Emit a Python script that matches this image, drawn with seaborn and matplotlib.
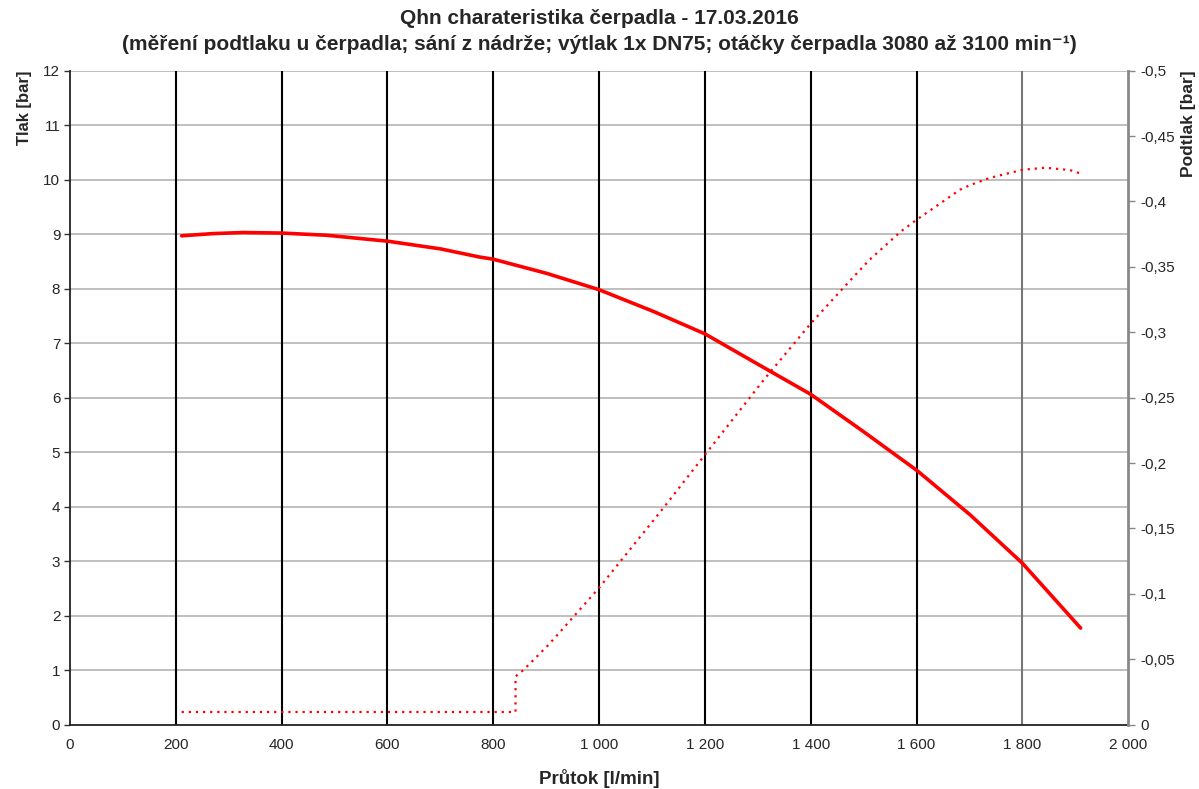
import matplotlib
matplotlib.use("Agg")
import matplotlib.pyplot as plt
import matplotlib.ticker as mticker
import seaborn as sns
import pandas as pd

# -----------------------------
# Data
# -----------------------------
# pressure curve (Tlak, left axis)
tlak_flow = [211, 270, 327, 400, 485, 601, 700, 774, 800, 901, 1000, 1103, 1200, 1297,
             1400, 1499, 1601, 1701, 1800, 1910]
tlak_bar = [8.97, 9.01, 9.03, 9.02, 8.98, 8.87, 8.73, 8.58, 8.54, 8.28, 7.98, 7.58, 7.17,
            6.63, 6.06, 5.38, 4.66, 3.85, 2.96, 1.77]

# suction curve (Podtlak, right axis, negative values)
podtlak_flow = [211, 842, 842, 857, 901, 916, 1000, 1121, 1200, 1310, 1327, 1400, 1464,
                1510, 1570, 1600, 1682, 1701, 1738, 1800, 1843, 1890, 1914]
podtlak_bar = [-0.0096, -0.0096, -0.0367, -0.0417, -0.0596, -0.0662, -0.1046, -0.1654,
               -0.2063, -0.263, -0.2713, -0.3067, -0.335, -0.355, -0.377, -0.386, -0.409,
               -0.4125, -0.418, -0.4242, -0.4258, -0.424, -0.4208]

x_ticks = [0, 200, 400, 600, 800, 1000, 1200, 1400, 1600, 1800, 2000]
left_ticks = list(range(0, 13))
right_ticks = [0, -0.05, -0.1, -0.15, -0.2, -0.25, -0.3, -0.35, -0.4, -0.45, -0.5]

title_line1 = "Qhn charateristika čerpadla - 17.03.2016"
title_line2 = ("(měření podtlaku u čerpadla; sání z nádrže; výtlak 1x DN75; "
               "otáčky čerpadla 3080 až 3100 min\u207b\u00b9)")

df_tlak = pd.DataFrame({"flow": tlak_flow, "val": tlak_bar})
df_pod = pd.DataFrame({"flow": podtlak_flow, "val": podtlak_bar})

# -----------------------------
# Style
# -----------------------------
sns.set_style("white")
plt.rcParams['font.family'] = ['Liberation Sans', 'DejaVu Sans']

fig = plt.figure(figsize=(11.99, 7.89), dpi=100)
ax = fig.add_axes([0.0584, 0.0817, 0.8826, 0.8287])
ax2 = ax.twinx()

# grid
for v in left_ticks[1:]:
    ax.axhline(v, color="#b4b4b4", lw=1.2, zorder=0)
for v in x_ticks[1:-1]:
    ax.axvline(v, color="#777777" if v == 1800 else "black", lw=1.5, zorder=1)

# -----------------------------
# Lines
# -----------------------------
sns.lineplot(data=df_tlak, x="flow", y="val", ax=ax, color="#ff0000", lw=2.6,
             estimator=None, sort=False, zorder=3)
sns.lineplot(data=df_pod, x="flow", y="val", ax=ax2, color="#ff0000", lw=1.6,
             linestyle=(0, (1, 2.2)), estimator=None, sort=False, zorder=3)

# -----------------------------
# Axes
# -----------------------------
ax.set_xlim(0, 2000)
ax.set_ylim(0, 12)
ax2.set_ylim(0, -0.5)
ax.set_xticks(x_ticks)
ax.set_yticks(left_ticks)
ax2.set_yticks(right_ticks)

ax.xaxis.set_major_formatter(mticker.FuncFormatter(lambda v, p: f"{int(v):,}".replace(",", " ")))


def comma_fmt(v, p):
    if abs(v) < 1e-9:
        return "0"
    return f"{v:g}".replace(".", ",")


ax2.yaxis.set_major_formatter(mticker.FuncFormatter(comma_fmt))

ax.tick_params(axis="both", labelsize=11, length=4, width=1, color="#333333",
               direction="out", pad=3)
ax.tick_params(axis="x", pad=6)
ax2.tick_params(axis="y", labelsize=11, length=5, width=1, color="#888888",
                direction="out", pad=4)

for s in ["top"]:
    ax.spines[s].set_visible(False)
    ax2.spines[s].set_visible(False)
ax.spines["left"].set_color("#222222")
ax.spines["bottom"].set_color("#222222")
ax.spines["left"].set_linewidth(1.3)
ax.spines["bottom"].set_linewidth(1.3)
ax2.spines["right"].set_color("#888888")
ax2.spines["right"].set_linewidth(2)
ax2.spines["left"].set_visible(False)
ax2.spines["bottom"].set_visible(False)
ax.spines["right"].set_visible(False)

ax.set_xlabel("Průtok [l/min]", fontsize=13.5, fontweight="bold", labelpad=12)
ax.set_ylabel("Tlak [bar]", fontsize=12, fontweight="bold", loc="top", labelpad=8)
ax2.set_ylabel("Podtlak [bar]", fontsize=12.5, fontweight="bold", loc="top",
               rotation=90, labelpad=4)

fig.text(0.5, 1 - 18 / 789, title_line1, fontsize=15, fontweight="bold",
         ha="center", va="center")
fig.text(0.5, 1 - 45 / 789, title_line2, fontsize=15, fontweight="bold",
         ha="center", va="center")

plt.savefig("out.png", dpi=100)
plt.close()
